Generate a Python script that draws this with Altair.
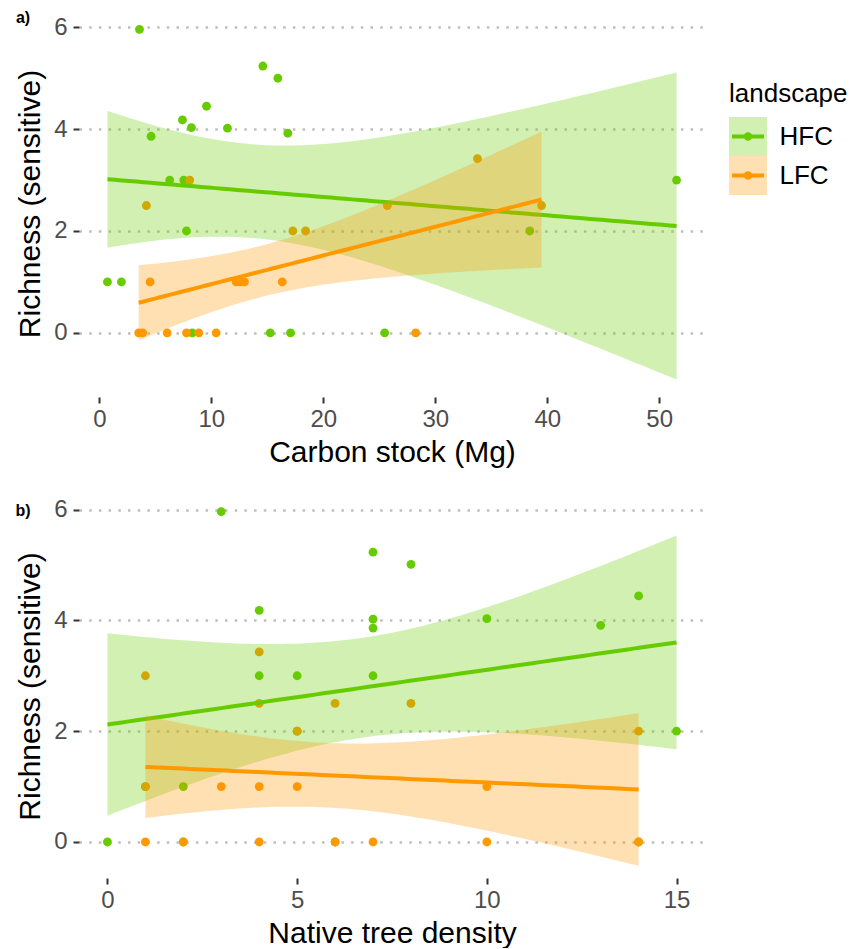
import numpy as np
import pandas as pd
import altair as alt

GROUPS = ["HFC", "LFC"]
COLORS = ["#66CC00", "#FF9900"]
FONT = "Liberation Sans"

# ---- Panel a: Carbon stock (Mg) ----
a_hfc_x = [0.72, 1.97, 3.58, 4.62, 6.28, 7.42, 7.54, 7.78, 8.22, 8.29,
           9.57, 11.44, 14.6, 15.26, 15.94, 16.83, 17.07, 25.48, 38.44, 51.55]
a_hfc_y = [1, 1, 5.96, 3.86, 3, 4.18, 3, 2, 4.03, 0,
           4.45, 4.02, 5.24, 0, 5.0, 3.92, 0, 0, 2, 3]
a_lfc_x = [3.51, 3.87, 4.2, 4.53, 6.05, 7.78, 8.07, 8.88, 10.43, 12.22,
           12.58, 12.96, 16.33, 17.28, 18.42, 25.72, 28.25, 33.77, 39.49]
a_lfc_y = [0, 0, 2.5, 1, 0, 0, 3, 0, 0, 1,
           1, 1, 1, 2, 2, 2.5, 0, 3.42, 2.5]

# ---- Panel b: Native tree density ----
b_hfc_x = [3, 7, 8, 4, 7, 7, 4, 5, 7, 10, 13, 14, 2, 0, 15, 5, 1, 2, 6, 14]
b_hfc_y = [5.96, 5.23, 5.01, 4.18, 4.02, 3.86, 3, 3, 3, 4.03, 3.91, 4.44, 1, 0, 2, 2, 1, 0, 0, 0]
b_lfc_x = [4, 1, 4, 6, 8, 5, 14, 1, 3, 4, 5, 10, 1, 2, 4, 6, 7, 10, 14]
b_lfc_y = [3.43, 3, 2.5, 2.5, 2.5, 2, 2, 1, 1, 1, 1, 1, 0, 0, 0, 0, 0, 0, 0]

a_xticks = [0, 10, 20, 30, 40, 50]
b_xticks = [0, 5, 10, 15]
y_ticks = [0, 2, 4, 6]

# 97.5% t quantiles for the lm confidence band
T975 = {17: 2.1098, 18: 2.1009}


def points_df(hx, hy, lx, ly):
    return pd.DataFrame({
        "x": list(hx) + list(lx),
        "y": list(hy) + list(ly),
        "landscape": ["HFC"] * len(hx) + ["LFC"] * len(lx),
    })


def lm_band(x, y, group, n_grid=80):
    x = np.asarray(x, float)
    y = np.asarray(y, float)
    n = len(x)
    b, a = np.polyfit(x, y, 1)
    xm = x.mean()
    sxx = ((x - xm) ** 2).sum()
    s = np.sqrt(((y - (a + b * x)) ** 2).sum() / (n - 2))
    gx = np.linspace(x.min(), x.max(), n_grid)
    fit = a + b * gx
    se = s * np.sqrt(1.0 / n + (gx - xm) ** 2 / sxx)
    t = T975[n - 2]
    return pd.DataFrame({"x": gx, "fit": fit, "lo": fit - t * se,
                         "hi": fit + t * se, "landscape": group})


color = alt.Color("landscape:N", scale=alt.Scale(domain=GROUPS, range=COLORS),
                  legend=None)


def panel(hx, hy, lx, ly, xtitle, xticks, xdomain, ydomain, height, tag, tag_dy):
    x_axis = alt.Axis(values=xticks, title=xtitle, grid=False, domain=False,
                      ticks=True, tickSize=6, tickWidth=2, tickColor="#333333",
                      labelFontSize=24, labelColor="#4D4D4D", labelPadding=4,
                      labelFont=FONT, titleFont=FONT, titleFontSize=30,
                      titleColor="black", titleFontWeight="normal", titlePadding=6)
    y_axis = alt.Axis(values=y_ticks, title="Richness (sensitive)", grid=True,
                      gridColor="#BEBEBE", gridDash=[2.5, 7.2], gridWidth=2.5,
                      domain=False, ticks=True, tickSize=6, tickWidth=2,
                      tickColor="#333333", labelFontSize=24, labelColor="#4D4D4D",
                      labelPadding=6, labelFont=FONT, titleFont=FONT,
                      titleFontSize=30, titleColor="black",
                      titleFontWeight="normal", titlePadding=8)
    xs = alt.Scale(domain=xdomain, nice=False, zero=False)
    ys = alt.Scale(domain=ydomain, nice=False, zero=False)

    def X(f):
        return alt.X(f"{f}:Q", scale=xs, axis=x_axis, title=xtitle)

    def Y(f):
        return alt.Y(f"{f}:Q", scale=ys, axis=y_axis, title="Richness (sensitive)")

    pts = points_df(hx, hy, lx, ly)
    layers = [alt.Chart(pts).mark_circle(size=78, opacity=1, clip=True)
              .encode(x=X("x"), y=Y("y"), color=color)]
    for g, (x, y) in zip(GROUPS, [(hx, hy), (lx, ly)]):
        band = lm_band(x, y, g)
        layers.append(alt.Chart(band).mark_area(opacity=0.3, clip=True)
                      .encode(x=X("x"), y=Y("lo"), y2="hi:Q", color=color))
        layers.append(alt.Chart(band).mark_line(strokeWidth=4, clip=True)
                      .encode(x=X("x"), y=Y("fit"), color=color))
    tag_layer = (alt.Chart(pd.DataFrame({"tag": [tag]}))
                 .mark_text(fontSize=16, fontWeight="bold", font=FONT,
                            align="center", baseline="middle", color="black")
                 .encode(text="tag:N", x=alt.value(-56), y=alt.value(tag_dy)))
    return alt.layer(*layers, tag_layer).properties(width=626, height=height)


panel_a = panel(a_hfc_x, a_hfc_y, a_lfc_x, a_lfc_y, "Carbon stock (Mg)",
                a_xticks, [-1.82, 54.09], [-1.26, 6.34], 387, "a)", 8)
panel_b = panel(b_hfc_x, b_hfc_y, b_lfc_x, b_lfc_y, "Native tree density",
                b_xticks, [-0.75, 15.75], [-0.65, 6.28], 384, "b)", 17)

# ---- legend built as a small chart ----
leg_df = pd.DataFrame({"landscape": GROUPS})
leg_scale = alt.Scale(domain=GROUPS, paddingInner=0, paddingOuter=0)
leg_axis = alt.Axis(orient="right", title=None, domain=False, ticks=False,
                    labelFontSize=26, labelColor="black", labelPadding=12,
                    labelFont=FONT)
LY = alt.Y("landscape:N", scale=leg_scale, axis=leg_axis)
key_bg = alt.Chart(leg_df).mark_rect(opacity=0.3).encode(y=LY, color=color)
key_line = alt.Chart(leg_df).mark_rule(strokeWidth=4).encode(
    y=LY, x=alt.value(3), x2=alt.value(35), color=color)
key_pt = alt.Chart(leg_df).mark_circle(size=70, opacity=1).encode(
    y=LY, x=alt.value(19), color=color)
legend = alt.layer(key_bg, key_line, key_pt).properties(
    width=38, height=78,
    title=alt.TitleParams("landscape", anchor="start", fontSize=26,
                          fontWeight="normal", font=FONT, offset=10,
                          color="black"))
spacer = alt.Chart(leg_df).mark_point(opacity=0, size=1).encode(
    x=alt.value(19), y=alt.value(1)).properties(width=38, height=2)
legend_col = alt.vconcat(spacer, legend, spacing=69)

chart = alt.concat(panel_a, legend_col, panel_b, columns=2,
                   spacing={"row": 27, "column": 24}, align="each").properties(
    padding={"left": 15, "top": 10, "right": 0, "bottom": 0}
).configure(font=FONT).configure_view(stroke=None)

chart.save("out.html", embed_options={"renderer": "svg", "actions": False})
